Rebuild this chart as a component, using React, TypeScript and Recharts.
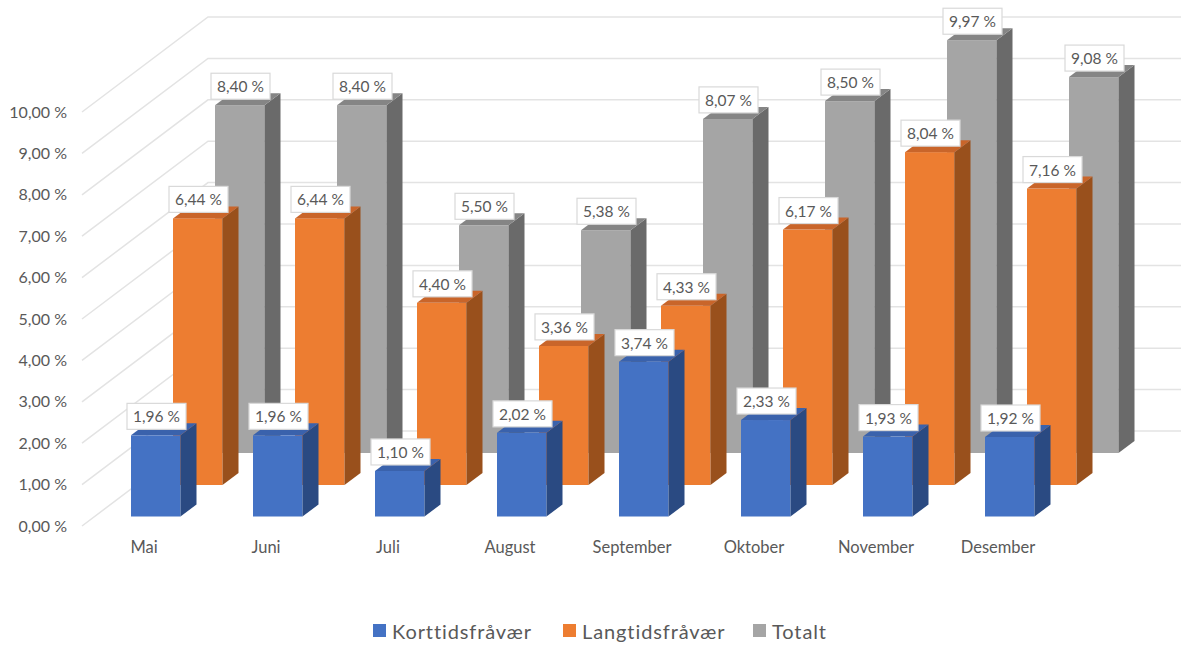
import { BarChart, Bar, XAxis, YAxis, CartesianGrid, Legend, LabelList } from 'recharts'

const months = ['Mai', 'Juni', 'Juli', 'August', 'September', 'Oktober', 'November', 'Desember']
const korttid = [1.96, 1.96, 1.1, 2.02, 3.74, 2.33, 1.93, 1.92]
const langtid = [6.44, 6.44, 4.4, 3.36, 4.33, 6.17, 8.04, 7.16]
const totalt = [8.4, 8.4, 5.5, 5.38, 8.07, 8.5, 9.97, 9.08]
const yTicks = [0, 1, 2, 3, 4, 5, 6, 7, 8, 9, 10]

const data = months.map((month, i) => ({
  month,
  korttid: korttid[i],
  langtid: langtid[i],
  totalt: totalt[i],
}))

const pct = (v: number) => v.toFixed(2).replace('.', ',') + ' %'

const FONT = 'Lato, sans-serif'
const TEXT = '#595959'
const DEPTH_X = 16
const DEPTH_Y = 12

const blue = { front: '#4472C4', side: '#2A4A82', top: '#3A62AC', dx: 11, dy: -9.5 }
const orange = { front: '#ED7D31', side: '#99501C', top: '#C9652A', dx: 53, dy: -41 }
const gray = { front: '#A5A5A5', side: '#6A6A6A', top: '#858585', dx: 95, dy: -73 }

// one box with front, side and top faces, moved back to its row on the floor
const box = (s: typeof blue) => (props: any) => {
  const x = props.x + s.dx
  const y = props.y + s.dy
  const w = props.width
  const h = props.height
  return (
    <g>
      <rect x={x} y={y} width={w} height={h} fill={s.front} />
      <polygon
        points={`${x + w},${y} ${x + w + DEPTH_X},${y - DEPTH_Y} ${x + w + DEPTH_X},${y + h - DEPTH_Y} ${x + w},${y + h}`}
        fill={s.side}
      />
      <polygon
        points={`${x},${y} ${x + DEPTH_X},${y - DEPTH_Y} ${x + w + DEPTH_X},${y - DEPTH_Y} ${x + w},${y}`}
        fill={s.top}
      />
    </g>
  )
}

const valueLabel = (s: typeof blue) => (props: any) => {
  const x = props.x + s.dx - 4
  const y = props.y + s.dy - 32
  return (
    <g>
      <rect x={x} y={y} width={59} height={26} fill="#fff" stroke="#D9D9D9" strokeWidth={1.2} />
      <text
        x={x + 29.5}
        y={y + 13}
        textAnchor="middle"
        dominantBaseline="central"
        fontFamily={FONT}
        fontSize={15.5}
        fill={TEXT}
      >
        {pct(props.value)}
      </text>
    </g>
  )
}

// grid line runs up the side wall and then along the back wall
const wallLine = (props: any) => (
  <path
    key={props.key}
    d={`M${props.x1 - 2},${props.y1} L${props.x1 + 124},${props.y1 - 95} L1181,${props.y1 - 95}`}
    fill="none"
    stroke="#E3E3E3"
    strokeWidth={1.5}
  />
)

const legendOrder = ['Korttidsfråvær', 'Langtidsfråvær', 'Totalt']
const legendX = [373, 563, 753]

const renderLegend = (props: any) => {
  const items = props.payload || []
  return (
    <svg width={1181} height={40} style={{ display: 'block' }}>
      {legendOrder.map((name, i) => {
        const item = items.find((p: any) => p.value === name)
        return (
          <g key={name}>
            <rect x={legendX[i]} y={14} width={13} height={13} fill={item ? item.color : '#000'} />
            <text
              x={legendX[i] + 19}
              y={20.5}
              dominantBaseline="central"
              fontFamily={FONT}
              fontSize={20}
              letterSpacing={0.9}
              fill={TEXT}
            >
              {name}
            </text>
          </g>
        )
      })}
    </svg>
  )
}

export default function App() {
  return (
    <div style={{ position: 'absolute', left: 0, top: 0, width: 1181, height: 646, background: '#fff' }}>
      <BarChart
        width={1181}
        height={646}
        data={data}
        margin={{ top: 112, right: 121, bottom: 50, left: 0 }}
      >
        <CartesianGrid vertical={false} horizontal={wallLine} />
        <XAxis
          dataKey="month"
          height={30}
          axisLine={false}
          tickLine={false}
          tickSize={0}
          tickMargin={15}
          dx={-1}
          interval={0}
          tick={{ fill: TEXT, fontSize: 16.5, fontFamily: FONT }}
        />
        <XAxis dataKey="month" xAxisId="lang" hide />
        <XAxis dataKey="month" xAxisId="tot" hide />
        <YAxis
          width={84}
          domain={[0, 10]}
          ticks={yTicks}
          interval={0}
          axisLine={false}
          tickLine={false}
          tickSize={0}
          tickMargin={17}
          tickFormatter={pct}
          tick={{ fill: TEXT, fontSize: 16, fontFamily: FONT }}
        />
        <Bar
          dataKey="totalt"
          name="Totalt"
          xAxisId="tot"
          fill={gray.front}
          barSize={49.5}
          shape={box(gray)}
          isAnimationActive={false}
        >
          <LabelList dataKey="totalt" content={valueLabel(gray)} />
        </Bar>
        <Bar
          dataKey="langtid"
          name="Langtidsfråvær"
          xAxisId="lang"
          fill={orange.front}
          barSize={49.5}
          shape={box(orange)}
          isAnimationActive={false}
        >
          <LabelList dataKey="langtid" content={valueLabel(orange)} />
        </Bar>
        <Bar
          dataKey="korttid"
          name="Korttidsfråvær"
          fill={blue.front}
          barSize={49.5}
          shape={box(blue)}
          isAnimationActive={false}
        >
          <LabelList dataKey="korttid" content={valueLabel(blue)} />
        </Bar>
        <Legend
          content={renderLegend}
          wrapperStyle={{ left: 0, top: 610, width: 1181, height: 40 }}
        />
      </BarChart>
    </div>
  )
}
